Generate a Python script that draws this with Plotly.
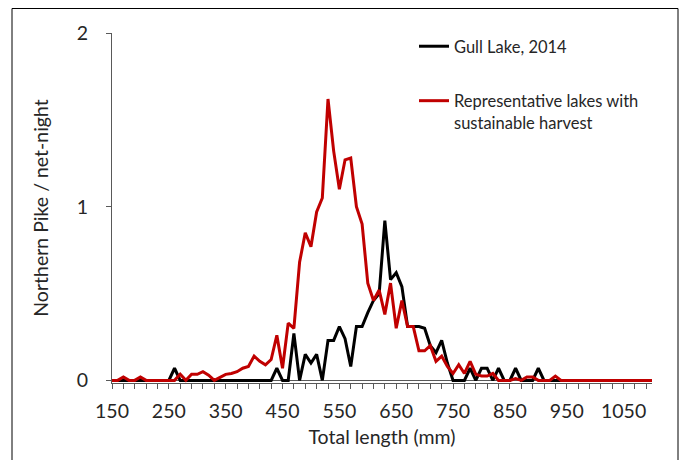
import plotly.graph_objects as go

# Length bins (mm), 10-mm categories from 150 to 1100
lengths = list(range(150, 1101, 10))

gull_2014 = [
    0, 0, 0, 0, 0, 0, 0, 0, 0, 0, 0,            # 150-250
    0.07,                                       # 260
    0, 0, 0, 0, 0, 0, 0, 0, 0, 0, 0, 0, 0, 0, 0, 0, 0,  # 270-430
    0.07, 0, 0, 0.27, 0, 0.15, 0.10, 0.15, 0,   # 440-520
    0.23, 0.23, 0.31, 0.24, 0.08, 0.31, 0.31, 0.39, 0.46, 0.50,  # 530-620
    0.92, 0.58, 0.62, 0.54, 0.31, 0.31, 0.31, 0.30, 0.20, 0.16,  # 630-720
    0.23, 0.10, 0, 0, 0, 0.07, 0, 0.07, 0.07, 0,                 # 730-820
    0.07, 0, 0, 0.07, 0, 0, 0, 0.07,                             # 830-900
    0, 0, 0, 0, 0, 0, 0, 0, 0, 0, 0, 0, 0, 0, 0, 0, 0, 0, 0, 0,  # 910-1100
]

representative = [
    0, 0, 0.02, 0, 0, 0.02, 0, 0, 0, 0, 0,      # 150-250
    0, 0.035, 0, 0.035, 0.035, 0.05, 0.03, 0, 0.02, 0.035,       # 260-350
    0.04, 0.05, 0.07, 0.08, 0.14, 0.11, 0.09, 0.12, 0.26, 0.07,  # 360-450
    0.33, 0.30, 0.68, 0.85, 0.77, 0.97, 1.05, 1.62, 1.32, 1.10,  # 460-550
    1.27, 1.28, 1.00, 0.90, 0.56, 0.46, 0.52, 0.38, 0.56, 0.30,  # 560-650
    0.46, 0.31, 0.31, 0.17, 0.17, 0.20, 0.11, 0.14, 0.08, 0.04,  # 660-750
    0.09, 0.04, 0.11, 0.035, 0.025, 0.025, 0.04, 0, 0, 0,        # 760-850
    0.01, 0, 0.02, 0.02, 0, 0, 0, 0.025, 0,                      # 860-940
    0, 0, 0, 0, 0, 0, 0, 0, 0, 0, 0, 0, 0, 0, 0, 0,              # 950-1100
]

x_tick_vals = [150, 250, 350, 450, 550, 650, 750, 850, 950, 1050]
y_tick_vals = [0, 1, 2]

FONT = "Lato"
TXT = "#262626"
AX = "#595959"
AXIS_FS = 19.5
LEG_FS = 16.5

fig = go.Figure()
fig.add_trace(go.Scatter(
    x=lengths, y=gull_2014, mode="lines", name="Gull Lake, 2014",
    legendgroup="g1", line=dict(color="#000000", width=3)))
fig.add_trace(go.Scatter(
    x=lengths, y=representative, mode="lines",
    name="Representative lakes with<br>sustainable harvest",
    legendgroup="g2", line=dict(color="#C00000", width=3)))

# page body has an 8px margin, so the figure is sized/placed accordingly
W, H = 680, 452
ml, mr, mt, mb = 104, 36, 25, 77
pw, ph = W - ml - mr, H - mt - mb

def px_to_paper_x(px):
    return (px - ml) / pw

def px_to_paper_y(py):
    return (H - mb - py) / ph

fig.update_layout(
    width=W, height=H,
    margin=dict(l=ml, r=mr, t=mt, b=mb, pad=0),
    paper_bgcolor="white", plot_bgcolor="white",
    font=dict(family=FONT, size=AXIS_FS, color=TXT),
    showlegend=True,
    legend=dict(
        x=px_to_paper_x(406), y=px_to_paper_y(21), xanchor="left", yanchor="top",
        bgcolor="rgba(0,0,0,0)", traceorder="grouped", tracegroupgap=30,
        itemwidth=30, valign="top", font=dict(family=FONT, size=LEG_FS, color=TXT)),
    xaxis=dict(
        range=[150, 1100], tickmode="array", tickvals=x_tick_vals,
        ticktext=[str(v) for v in x_tick_vals],
        showline=True, linecolor=AX, linewidth=1, showgrid=False, zeroline=False,
        ticks="outside", ticklen=5, tickcolor=AX, tickwidth=1,
        minor=dict(tickmode="linear", tick0=150, dtick=20, ticks="outside",
                   ticklen=5, tickcolor=AX, tickwidth=1, showgrid=False),
        tickfont=dict(family=FONT, size=AXIS_FS, color=TXT),
        ticklabelstandoff=6,
        title=dict(text="Total length (mm)", standoff=8,
                   font=dict(family=FONT, size=AXIS_FS, color=TXT))),
    yaxis=dict(
        range=[-0.015, 2], tickmode="array", tickvals=y_tick_vals,
        showline=True, linecolor=AX, linewidth=1, showgrid=False,
        zeroline=True, zerolinecolor=AX, zerolinewidth=1,
        ticks="outside", ticklen=5, tickcolor=AX, tickwidth=1,
        tickfont=dict(family=FONT, size=AXIS_FS, color=TXT),
        ticklabelstandoff=14,
        title=dict(text="Northern Pike / net-night", standoff=22,
                   font=dict(family=FONT, size=AXIS_FS, color=TXT))),
    shapes=[dict(
        type="rect", xref="paper", yref="paper", layer="below",
        x0=px_to_paper_x(4), x1=px_to_paper_x(670),
        y0=px_to_paper_y(470), y1=px_to_paper_y(0.5),
        line=dict(color="#000000", width=1), fillcolor="rgba(0,0,0,0)")],
)

fig.write_html("out.html")
